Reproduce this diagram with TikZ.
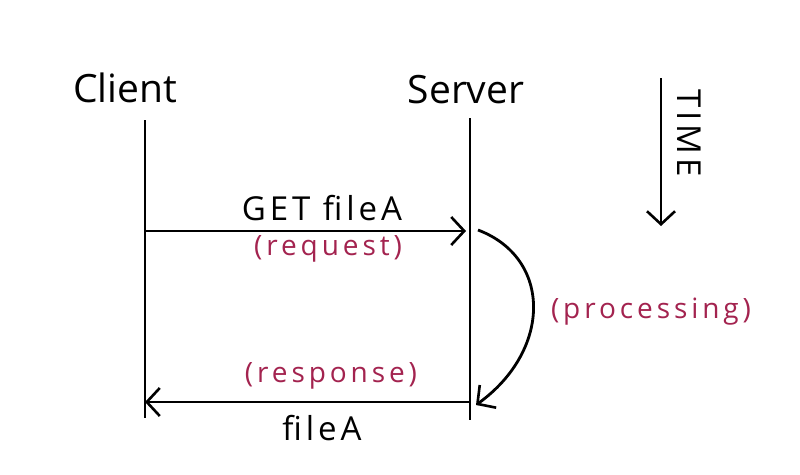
\documentclass[tikz,border=0pt]{standalone}
\usepackage{fontspec}
\setmainfont{Open Sans}
\newfontfamily\spaced[LetterSpace=12]{Open Sans}
\newfontfamily\wide[LetterSpace=14]{Open Sans}
\usetikzlibrary{arrows.meta}
\definecolor{note}{HTML}{A3234F}
\begin{document}
\begin{tikzpicture}[x=1pt,y=-1pt,
  life/.style={line width=2.8pt},
  msg/.style={line width=2.8pt,-{Straight Barb[length=13pt,width=28pt,line width=2.6pt]}},
  title/.style={font=\fontsize{39}{44}\selectfont},
  lbl/.style={font=\spaced\fontsize{33}{38}\selectfont},
  notelbl/.style={font=\wide\fontsize{28}{32}\selectfont,text=note}]
\useasboundingbox (0,0) rectangle (800,474);
\node[title] (client) at (125,88) {Client};
\node[title] (server) at (466,90) {Server};
\coordinate (c1) at (145,120);
\coordinate (c2) at (145,418);
\coordinate (s1) at (470,118);
\coordinate (s2) at (470,420);
\draw[life] (c1) -- (c2);
\draw[life] (s1) -- (s2);
\coordinate (reqA) at (145,231);
\coordinate (reqB) at (466,231);
\draw[msg] (reqA) -- (reqB);
\coordinate (resA) at (470,402);
\coordinate (resB) at (145,402);
\draw[msg] (resA) -- (resB);
\node[lbl] (get) at (322,208) {GET fileA};
\node[notelbl] (req) at (328,249) {(request)};
\node[notelbl] (resp) at (331,376) {(response)};
\node[lbl] (fa) at (322,428) {fileA};
\coordinate (p1) at (478,230);
\coordinate (p2) at (476,405);
\draw[msg] (p1) .. controls (552,258) and (552,350) .. (p2);
\node[notelbl] (proc) at (651,312) {(processing)};
\coordinate (t1) at (661,78);
\coordinate (t2) at (661,226);
\draw[msg] (t1) -- (t2);
\node[lbl,rotate=-90] (time) at (689,133) {TIME};
\end{tikzpicture}
\end{document}
